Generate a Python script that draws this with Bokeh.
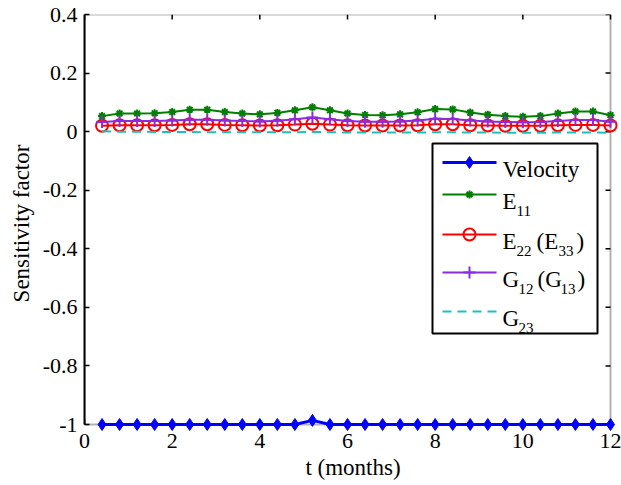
from math import pi
from bokeh.plotting import figure
from bokeh.models import Range1d, FixedTicker, PolyAnnotation
from bokeh.embed import file_html
from bokeh.resources import INLINE
from bokeh.core.properties import value

# ---------------- data ----------------
t_months = [0.4, 0.8, 1.2, 1.6, 2.0, 2.4, 2.8, 3.2, 3.6, 4.0,
            4.4, 4.8, 5.2, 5.6, 6.0, 6.4, 6.8, 7.2, 7.6, 8.0,
            8.4, 8.8, 9.2, 9.6, 10.0, 10.4, 10.8, 11.2, 11.6, 12.0]
velocity = [-1.0, -1.0, -1.0, -1.0, -1.0, -1.0, -1.0, -1.0, -1.0, -1.0,
            -1.0, -1.0, -0.986, -1.0, -1.0, -1.0, -1.0, -1.0, -1.0, -1.0,
            -1.0, -1.0, -1.0, -1.0, -1.0, -1.0, -1.0, -1.0, -1.0, -1.0]
e11 = [0.053, 0.062, 0.062, 0.063, 0.067, 0.075, 0.075, 0.067, 0.062, 0.059,
       0.064, 0.073, 0.083, 0.073, 0.062, 0.057, 0.056, 0.059, 0.066, 0.077,
       0.076, 0.065, 0.058, 0.053, 0.051, 0.053, 0.062, 0.069, 0.069, 0.056]
e22 = [0.020, 0.022, 0.022, 0.022, 0.023, 0.025, 0.025, 0.023, 0.022, 0.021,
       0.022, 0.024, 0.027, 0.024, 0.022, 0.021, 0.021, 0.021, 0.022, 0.025,
       0.025, 0.022, 0.021, 0.020, 0.020, 0.020, 0.022, 0.023, 0.023, 0.021]
g12 = [0.033, 0.036, 0.036, 0.036, 0.038, 0.041, 0.041, 0.038, 0.036, 0.035,
       0.037, 0.042, 0.048, 0.042, 0.036, 0.034, 0.034, 0.035, 0.038, 0.044,
       0.043, 0.038, 0.035, 0.033, 0.032, 0.033, 0.036, 0.040, 0.040, 0.034]
g23 = [0.001, 0.000, 0.000, -0.001, -0.001, -0.001, -0.002, -0.002, -0.002, -0.002,
       -0.002, -0.002, -0.001, -0.002, -0.003, -0.003, -0.003, -0.003, -0.003, -0.002,
       -0.002, -0.003, -0.003, -0.004, -0.004, -0.004, -0.003, -0.003, -0.003, -0.004]

x_ticks = [0, 2, 4, 6, 8, 10, 12]
y_ticks = [-1, -0.8, -0.6, -0.4, -0.2, 0, 0.2, 0.4]
y_tick_labels = ["-1", "-0.8", "-0.6", "-0.4", "-0.2", "0", "0.2", "0.4"]

# ---------------- layout / styles ----------------
FONT = "Liberation Serif"
BLUE, GREEN, RED, PURPLE, CYAN = "#0000FF", "#008000", "#FF0000", "#8A2BE2", "#1FBFBF"

W, H = 621, 485
XR = (0, 12)           # axis limits
YR = (-1, 0.4)
FL = 84                # px of x = 0
FT = 14                # px of y = 0.4
XSCALE = 526 / 12.0    # px per month
YSCALE = 410 / 1.4     # px per unit
PAD_R = W - FL - 526   # frame room right of x = 12 so edge markers are not clipped
PAD_B = 8              # frame room below y = -1 so the Velocity markers are not clipped
x_lo, x_hi = XR[0], XR[1] + PAD_R / XSCALE
y_lo, y_hi = YR[0] - PAD_B / YSCALE, YR[1]
FB = FT + 410 + PAD_B

p = figure(width=W, height=H, x_range=Range1d(x_lo, x_hi), y_range=Range1d(y_lo, y_hi),
           output_backend="svg", toolbar_location=None,
           min_border_left=FL, min_border_right=0,
           min_border_top=FT, min_border_bottom=H - FB,
           background_fill_color="white", border_fill_color="white")
p.xgrid.visible = False
p.ygrid.visible = False
p.outline_line_color = None

def px_to_x(px):
    return XR[0] + (px - FL) / XSCALE

def px_to_y(py):
    return YR[1] - (py - FT) / YSCALE

# axes box
p.add_layout(PolyAnnotation(xs=[XR[0], XR[1], XR[1], XR[0]], ys=[YR[1], YR[1], YR[0], YR[0]],
                            fill_alpha=0, line_color="black", line_width=2, level="underlay"))

xb = p.below[0]
yl = p.left[0]
for ax in (xb, yl):
    ax.major_tick_out = 0
    ax.minor_tick_line_color = None
    ax.major_label_text_font = FONT
    ax.major_label_text_color = "black"
    ax.major_label_text_font_size = "22px"
    ax.axis_label_text_font = FONT
    ax.axis_label_text_font_size = "23px"
    ax.axis_label_text_font_style = "normal"
    ax.axis_label_text_color = "black"

xb.ticker = FixedTicker(ticks=x_ticks)
xb.major_label_overrides = {v: str(v) for v in x_ticks}
xb.axis_line_color = None
xb.major_tick_line_color = None
xb.major_tick_in = 0
xb.major_label_standoff = 1
xb.axis_label = "t (months)"
xb.axis_label_standoff = 4

yl.ticker = FixedTicker(ticks=y_ticks)
yl.major_label_overrides = {v: s for v, s in zip(y_ticks, y_tick_labels)}
yl.bounds = YR
yl.axis_line_width = 2
yl.major_tick_in = 5
yl.major_tick_line_width = 1.5
yl.major_label_standoff = 7
yl.axis_label = "Sensitivity factor"
yl.axis_label_standoff = 6

# inward ticks on bottom, top and right edges
p.ray(x=x_ticks, y=[YR[0]] * len(x_ticks), length=5, length_units="screen",
      angle=pi / 2, line_color="black", line_width=1.5)
p.ray(x=x_ticks, y=[YR[1]] * len(x_ticks), length=5, length_units="screen",
      angle=-pi / 2, line_color="black", line_width=1.5)
p.ray(x=[XR[1]] * len(y_ticks), y=y_ticks, length=5, length_units="screen",
      angle=pi, line_color="black", line_width=1.5)

# ---------------- series ----------------
p.line(t_months, velocity, line_color=BLUE, line_width=3)
p.scatter(t_months, velocity, marker="diamond", size=12, fill_color=BLUE, line_color=BLUE)

p.line(t_months, e11, line_color=GREEN, line_width=2)
p.scatter(t_months, e11, marker="asterisk", size=8, line_color=GREEN, line_width=2)

p.line(t_months, e22, line_color=RED, line_width=2)
p.scatter(t_months, e22, marker="circle", size=12, fill_color=None, line_color=RED, line_width=2)

p.line(t_months, g12, line_color=PURPLE, line_width=2)
p.scatter(t_months, g12, marker="cross", size=12, line_color=PURPLE, line_width=2)

p.line(t_months, g23, line_color=CYAN, line_width=2, line_dash="9 6")

# ---------------- legend (built by hand for subscripts) ----------------
box_l, box_r, box_t, box_b = 432, 597, 143, 333
p.quad(left=[px_to_x(box_l)], right=[px_to_x(box_r)], top=[px_to_y(box_t)],
       bottom=[px_to_y(box_b)], fill_color="white", line_color="black", line_width=2)

line_x0, line_x1, mark_x, text_x = 442, 496, 469, 502
MAIN, SUB = "23px", "15px"

entries = [
    (162, BLUE, None, dict(marker="diamond", size=12, fill_color=BLUE, line_color=BLUE), 3,
     [("Velocity", 0, False)]),
    (194, GREEN, None, dict(marker="asterisk", size=8, line_color=GREEN, line_width=2), 2,
     [("E", 0, False), ("11", 14, True)]),
    (234, RED, None, dict(marker="circle", size=12, fill_color=None, line_color=RED, line_width=2), 2,
     [("E", 0, False), ("22", 14, True), ("(E", 34, False), ("33", 56, True), (")", 74, False)]),
    (272, PURPLE, None, dict(marker="cross", size=12, line_color=PURPLE, line_width=2), 2,
     [("G", 0, False), ("12", 16, True), ("(G", 35, False), ("13", 58, True), (")", 75, False)]),
    (311, CYAN, "9 6", None, 2,
     [("G", 0, False), ("23", 16, True)]),
]

for ly, col, dash, mk, lw, parts in entries:
    yy = px_to_y(ly)
    p.line([px_to_x(line_x0), px_to_x(line_x1)], [yy, yy], line_color=col,
           line_width=lw, line_dash=dash if dash else "solid")
    if mk is not None:
        p.scatter([px_to_x(mark_x)], [yy], **mk)
    for txt, dx, sub in parts:
        p.text(x=[px_to_x(text_x)], y=[yy], text=[txt], x_offset=dx,
               y_offset=16 if sub else 7,
               text_font=value(FONT), text_font_size=SUB if sub else MAIN,
               text_color="black", text_align="left", text_baseline="alphabetic")

open("out.html", "w").write(file_html(p, INLINE))
